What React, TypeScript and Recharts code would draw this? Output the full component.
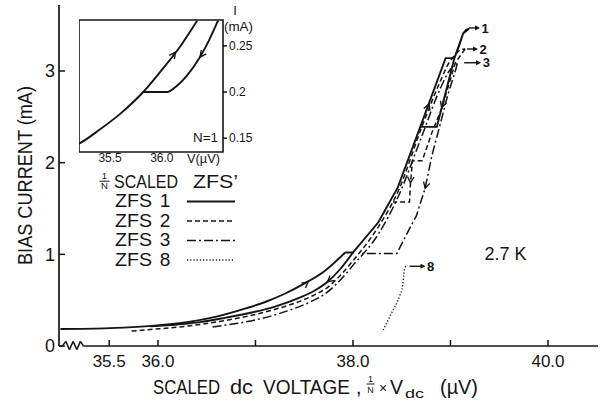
import React from 'react';
import {
  LineChart,
  Line,
  XAxis,
  YAxis,
  ReferenceLine,
  ReferenceDot,
  ReferenceArea,
  Legend,
} from 'recharts';

const FONT = '"Liberation Sans", Arial, Helvetica, sans-serif';
const INK = '#141414';

// ---------- main panel data (scaled voltage in µV, bias current in mA) ----------
// ZFS 1: up-sweep upper branch
const zfs1UpV = [35.0, 35.5, 36.0, 36.3, 36.6, 36.9, 37.1, 37.3, 37.5, 37.7, 37.92];
const zfs1UpI = [0.185, 0.195, 0.225, 0.26, 0.32, 0.41, 0.48, 0.57, 0.68, 0.81, 1.02];
// ZFS 1: jump at 1 mA, steep part, box near the top, return to 1 mA
const zfs1TopV = [37.92, 38.0, 38.26, 38.46, 38.69, 38.95, 39.04, 39.09, 39.13, 39.16, 39.19,
  39.13, 39.04, 38.86, 38.69, 38.46, 38.26, 38.0];
const zfs1TopI = [1.02, 1.02, 1.35, 1.73, 2.39, 3.14, 3.14, 3.28, 3.41, 3.45, 3.46,
  3.41, 3.14, 2.39, 2.39, 1.73, 1.35, 1.02];
// ZFS 1: down-sweep lower branch
const zfs1DownV = [35.92, 36.2, 36.43, 36.7, 36.94, 37.2, 37.46, 37.6, 37.74, 37.87, 38.0];
const zfs1DownI = [0.215, 0.235, 0.26, 0.31, 0.36, 0.43, 0.53, 0.6, 0.7, 0.84, 1.02];

// ZFS 2 (dashed)
const zfs2UpV = [35.73, 35.92, 36.2, 36.43, 36.7, 36.94, 37.2, 37.46, 37.6, 37.74, 37.87, 38.0, 38.26, 38.46, 38.71,
  38.88, 38.98, 39.05, 39.1, 39.15];
const zfs2UpI = [0.163, 0.18, 0.205, 0.235, 0.28, 0.33, 0.4, 0.49, 0.555, 0.64, 0.77, 0.93, 1.3, 1.68, 2.4,
  2.85, 3.08, 3.18, 3.23, 3.24];
const zfs2DownV = [39.15, 39.05, 38.91, 38.81, 38.71, 38.61, 38.59, 38.58, 38.41];
const zfs2DownI = [3.24, 3.09, 2.59, 2.33, 2.02, 2.02, 1.78, 1.57, 1.57];

// ZFS 3 (dash-dot)
const zfs3UpV = [36.56, 36.8, 37.0, 37.2, 37.4, 37.56, 37.74, 37.87, 38.0, 38.26, 38.46, 38.71, 38.9, 39.0, 39.07];
const zfs3UpI = [0.207, 0.245, 0.285, 0.34, 0.41, 0.48, 0.59, 0.72, 0.88, 1.22, 1.62, 2.3, 2.82, 3.02, 3.08];
const zfs3DownV = [39.07, 39.05, 38.97, 38.89, 38.81, 38.74, 38.65, 38.56, 38.45, 38.08];
const zfs3DownI = [3.08, 3.0, 2.73, 2.4, 2.08, 1.72, 1.42, 1.24, 1.01, 1.01];

// ZFS 8 (dotted)
const zfs8V = [38.31, 38.4, 38.48, 38.51, 38.52, 38.53, 38.56];
const zfs8I = [0.174, 0.37, 0.55, 0.66, 0.77, 0.85, 0.88];

// ---------- inset data (N = 1, unscaled) ----------
const insetUpV = [35.2, 35.21, 35.4, 35.6, 35.82, 35.98, 36.18, 36.34];
const insetUpI = [0.144, 0.1446, 0.1593, 0.1766, 0.2, 0.2213, 0.2499, 0.2772];
const insetDownV = [35.82, 36.05, 36.146, 36.242, 36.368, 36.455, 36.542];
const insetDownI = [0.2, 0.2, 0.2068, 0.2178, 0.238, 0.256, 0.2772];

// ---------- axes ----------
const xDomain: [number, number] = [34.985, 40.513];
const yDomain: [number, number] = [0, 3.72];
const xTicks = [35.5, 36, 37, 38, 39, 40];
const xLabelled = [35.5, 36, 38, 40];
const xTopTicks = [35.5, 37, 38, 39, 40];
const yTicks = [0, 1, 2, 3];
const yRightTicks = [1, 2, 3];

const insetXDomain: [number, number] = [35.2, 36.59];
const insetYDomain: [number, number] = [0.135, 0.278];
const insetXTicks = [35.5, 36.0];
const insetYTicks = [0.15, 0.2, 0.25];

// axis-break zigzag on the voltage axis
const breakV = [34.985, 35.02, 35.055, 35.092, 35.13, 35.168, 35.205, 35.235, 35.26];
const breakI = [0, 0, 0.05, -0.04, 0.05, -0.04, 0.05, 0, 0];

// end-of-branch tags and sweep-direction arrows
const endTags = [
  { v: 39.19, i: 3.47, text: '1', len: 7 },
  { v: 39.17, i: 3.24, text: '2', len: 7 },
  { v: 39.14, i: 3.09, text: '3', len: 13 },
  { v: 38.58, i: 0.87, text: '8', len: 12 },
];
const mainArrows = [
  { v: 37.54, i: 0.7, a: -39 },
  { v: 37.74, i: 0.7, a: 139 },
  { v: 38.78, i: 2.64, a: -69 },
  { v: 38.91, i: 2.6, a: 107 },
  { v: 38.74, i: 1.72, a: 105 },
  { v: 38.59, i: 1.78, a: 93 },
];
const insetArrows = [
  { v: 36.13, i: 0.243, a: -54 },
  { v: 36.37, i: 0.238, a: 126 },
];

const zip = (vs: number[], is: number[]) => vs.map((v, k) => ({ v, i: is[k] }));

type Part = { data: { v: number; i: number }[]; curve: 'monotone' | 'linear' };
const series: { key: string; name: string; n: string; dash?: string; w: number; parts: Part[] }[] = [
  {
    key: 'zfs1', name: 'ZFS', n: '1', dash: undefined, w: 1.9,
    parts: [
      { data: zip(zfs1UpV, zfs1UpI), curve: 'monotone' },
      { data: zip(zfs1TopV, zfs1TopI), curve: 'linear' },
      { data: zip(zfs1DownV, zfs1DownI), curve: 'monotone' },
    ],
  },
  {
    key: 'zfs2', name: 'ZFS', n: '2', dash: '5 3', w: 1.5,
    parts: [
      { data: zip(zfs2UpV, zfs2UpI), curve: 'monotone' },
      { data: zip(zfs2DownV, zfs2DownI), curve: 'linear' },
    ],
  },
  {
    key: 'zfs3', name: 'ZFS', n: '3', dash: '9 3 2 3', w: 1.5,
    parts: [
      { data: zip(zfs3UpV, zfs3UpI), curve: 'monotone' },
      { data: zip(zfs3DownV, zfs3DownI), curve: 'linear' },
    ],
  },
  {
    key: 'zfs8', name: 'ZFS', n: '8', dash: '1.2 2', w: 1.4,
    parts: [{ data: zip(zfs8V, zfs8I), curve: 'monotone' }],
  },
];

const Chevron = ({ cx, cy, a }: { cx: number; cy: number; a: number }) => (
  <path
    d="M -6 -3.2 L 0 0 L -6 3.2"
    transform={`translate(${cx},${cy}) rotate(${a})`}
    fill="none"
    stroke={INK}
    strokeWidth={1.4}
  />
);

const tagShape = (text: string, len: number) => (p: any) => {
  const { cx, cy } = p;
  return (
    <g>
      <line x1={cx} y1={cy} x2={cx + len} y2={cy} stroke={INK} strokeWidth={1.4} />
      <path d={`M ${cx + len + 4} ${cy} L ${cx + len - 1} ${cy - 2.6} L ${cx + len - 1} ${cy + 2.6} Z`} fill={INK} />
      <text x={cx + len + 5.5} y={cy} dy="0.36em" fontSize={13} fontWeight="bold" fill={INK} fontFamily={FONT}>
        {text}
      </text>
    </g>
  );
};

const tempShape = (p: any) => (
  <text x={p.cx} y={p.cy} dy="0.36em" fontSize={18} textLength={42} lengthAdjust="spacingAndGlyphs" fill={INK} fontFamily={FONT}>
    2.7 K
  </text>
);

const renderLegend = () => (
  <svg width={160} height={110} style={{ overflow: 'visible', display: 'block' }} fontFamily={FONT} fill={INK}>
    <text x={14.5} y={14} fontSize={9.5} textAnchor="middle">1</text>
    <line x1={9.5} x2={19.5} y1={16.2} y2={16.2} stroke={INK} strokeWidth={1} />
    <text x={14.5} y={24} fontSize={9.5} textAnchor="middle">N</text>
    <text x={24} y={23} fontSize={19} textLength={64} lengthAdjust="spacingAndGlyphs">SCALED</text>
    <text x={103} y={23} fontSize={19} textLength={45} lengthAdjust="spacingAndGlyphs">ZFS’</text>
    {series.map((s, k) => {
      const base = [42, 61.5, 81, 100.5][k];
      return (
        <g key={s.key}>
          <text x={25} y={base} fontSize={19} textLength={37} lengthAdjust="spacingAndGlyphs">{s.name}</text>
          <text x={75} y={base} fontSize={19} textAnchor="middle">{s.n}</text>
          <line
            x1={97}
            x2={145}
            y1={base - 5.5}
            y2={base - 5.5}
            stroke={INK}
            strokeWidth={s.w}
            strokeDasharray={s.dash}
          />
        </g>
      );
    })}
  </svg>
);

const renderXTitle = () => (
  <g fontFamily={FONT} fill={INK}>
    <text x={153} y={394} fontSize={19.5} textLength={67} lengthAdjust="spacingAndGlyphs">SCALED</text>
    <text x={230} y={394} fontSize={19.5} textLength={23} lengthAdjust="spacingAndGlyphs">dc</text>
    <text x={263} y={394} fontSize={19.5} textLength={87} lengthAdjust="spacingAndGlyphs">VOLTAGE</text>
    <text x={356} y={394} fontSize={19.5}>,</text>
    <text x={370.5} y={382} fontSize={9} textAnchor="middle">1</text>
    <line x1={366.5} x2={374.5} y1={384} y2={384} stroke={INK} strokeWidth={1} />
    <text x={370.5} y={393} fontSize={9} textAnchor="middle">N</text>
    <text x={383} y={393} fontSize={14} textAnchor="middle">×</text>
    <text x={390} y={394} fontSize={19.5} textLength={13} lengthAdjust="spacingAndGlyphs">V</text>
    <text x={405} y={398} fontSize={12} textLength={19} lengthAdjust="spacingAndGlyphs">dc</text>
    <text x={440} y={394} fontSize={19.5} textLength={38} lengthAdjust="spacingAndGlyphs">(µV)</text>
  </g>
);

const renderYTitle = () => (
  <text
    transform="translate(32,175.5) rotate(-90)"
    textAnchor="middle"
    fontSize={21}
    textLength={179}
    lengthAdjust="spacingAndGlyphs"
    fontFamily={FONT}
    fill={INK}
  >
    BIAS CURRENT (mA)
  </text>
);

const renderInsetText = () => (
  <g fontFamily={FONT} fill={INK} fontSize={13}>
    <text x={114} y={142} textLength={25} lengthAdjust="spacingAndGlyphs">N=1</text>
    <text x={108} y={163} textLength={33} lengthAdjust="spacingAndGlyphs">V(µV)</text>
    <text x={156} y={15} textAnchor="middle">I</text>
    <text x={145} y={31} textLength={29} lengthAdjust="spacingAndGlyphs">(mA)</text>
  </g>
);

const axisStroke = { stroke: INK, strokeWidth: 1.7 };
const tickStroke = { stroke: INK, strokeWidth: 1.5 };

function Inset() {
  return (
    <div style={{ position: 'absolute', left: 79, top: 0 }}>
      <LineChart width={180} height={170} margin={{ top: 20, right: 1, bottom: 2, left: 0 }} style={{ fontFamily: FONT }}>
        <XAxis
          type="number"
          dataKey="v"
          domain={insetXDomain}
          allowDataOverflow
          ticks={insetXTicks}
          tickFormatter={(v: number) => v.toFixed(1)}
          height={16}
          tickLine={false}
          axisLine={false}
          tickSize={0}
          tickMargin={1}
          tick={{ fill: INK, fontSize: 12, fontFamily: FONT }}
          label={{ content: renderInsetText }}
        />
        <YAxis
          orientation="right"
          type="number"
          domain={insetYDomain}
          allowDataOverflow
          ticks={insetYTicks}
          width={35}
          axisLine={false}
          tickSize={4}
          tickMargin={2}
          tickLine={tickStroke}
          tick={{ fill: INK, fontSize: 12, fontFamily: FONT }}
        />
        <ReferenceArea
          x1={insetXDomain[0]}
          x2={insetXDomain[1]}
          y1={insetYDomain[0]}
          y2={insetYDomain[1]}
          fill="none"
          fillOpacity={0}
          stroke={INK}
          strokeWidth={1.6}
          ifOverflow="visible"
        />
        <Line data={zip(insetUpV, insetUpI)} dataKey="i" type="monotone" stroke={INK} strokeWidth={1.9} dot={false} isAnimationActive={false} />
        <Line data={zip(insetDownV, insetDownI)} dataKey="i" type="monotone" stroke={INK} strokeWidth={1.9} dot={false} isAnimationActive={false} />
        {insetArrows.map((a, k) => (
          <ReferenceDot key={k} x={a.v} y={a.i} r={0} shape={(p: any) => <Chevron cx={p.cx} cy={p.cy} a={a.a} />} />
        ))}
      </LineChart>
    </div>
  );
}

export default function App() {
  const breakPts = zip(breakV, breakI);
  return (
    <div style={{ position: 'absolute', left: 0, top: 0, width: 605, height: 402, background: '#fff' }}>
      <LineChart width={605} height={402} margin={{ top: 5, right: 7, bottom: 26, left: 19 }} style={{ fontFamily: FONT }}>
        <XAxis
          xAxisId="b"
          type="number"
          dataKey="v"
          domain={xDomain}
          allowDataOverflow
          ticks={xTicks}
          tickFormatter={(v: number) => (xLabelled.includes(v) ? v.toFixed(1) : '')}
          height={30}
          axisLine={false}
          tickSize={-6}
          tickMargin={15}
          tickLine={tickStroke}
          stroke={INK}
          tick={{ fill: INK, fontSize: 17, fontFamily: FONT }}
          label={{ content: renderXTitle }}
        />
        <XAxis
          xAxisId="t"
          orientation="top"
          type="number"
          dataKey="v"
          domain={xDomain}
          allowDataOverflow
          ticks={xTopTicks}
          height={0}
          tick={false}
          tickSize={-6}
          axisLine={axisStroke}
          tickLine={tickStroke}
          stroke={INK}
        />
        <YAxis
          yAxisId="l"
          type="number"
          domain={yDomain}
          allowDataOverflow
          ticks={yTicks}
          width={40}
          tickSize={-6}
          tickMargin={10}
          axisLine={axisStroke}
          tickLine={tickStroke}
          stroke={INK}
          tick={{ fill: INK, fontSize: 18, fontFamily: FONT }}
          label={{ content: renderYTitle }}
        />
        <YAxis
          yAxisId="r"
          orientation="right"
          type="number"
          domain={yDomain}
          allowDataOverflow
          ticks={yRightTicks}
          width={0}
          tick={false}
          tickSize={-6}
          axisLine={axisStroke}
          tickLine={tickStroke}
          stroke={INK}
        />
        <Legend
          layout="horizontal"
          verticalAlign="middle"
          align="center"
          content={renderLegend}
          wrapperStyle={{ left: 90, top: 165, width: 160, height: 110 }}
        />
        {/* voltage axis with break */}
        <ReferenceLine
          xAxisId="b"
          yAxisId="l"
          segment={[{ x: breakV[breakV.length - 1], y: 0 }, { x: xDomain[1], y: 0 }]}
          stroke={INK}
          strokeWidth={1.7}
          ifOverflow="visible"
        />
        {breakPts.slice(0, -1).map((p, k) => (
          <ReferenceLine
            key={`br${k}`}
            xAxisId="b"
            yAxisId="l"
            segment={[{ x: p.v, y: p.i }, { x: breakPts[k + 1].v, y: breakPts[k + 1].i }]}
            stroke={INK}
            strokeWidth={1.5}
            ifOverflow="visible"
          />
        ))}
        {series.flatMap((s) =>
          s.parts.map((part, j) => (
            <Line
              key={`${s.key}-${j}`}
              xAxisId="b"
              yAxisId="l"
              data={part.data}
              dataKey="i"
              name={`${s.name} ${s.n}`}
              type={part.curve}
              stroke={INK}
              strokeWidth={s.w}
              strokeDasharray={s.dash}
              dot={false}
              isAnimationActive={false}
            />
          ))
        )}
        {mainArrows.map((a, k) => (
          <ReferenceDot
            key={`ar${k}`}
            xAxisId="b"
            yAxisId="l"
            x={a.v}
            y={a.i}
            r={0}
            shape={(p: any) => <Chevron cx={p.cx} cy={p.cy} a={a.a} />}
          />
        ))}
        {endTags.map((t, k) => (
          <ReferenceDot key={`tg${k}`} xAxisId="b" yAxisId="l" x={t.v} y={t.i} r={0} shape={tagShape(t.text, t.len)} />
        ))}
        <ReferenceDot xAxisId="b" yAxisId="l" x={39.35} y={1.01} r={0} shape={tempShape} />
      </LineChart>
      <Inset />
    </div>
  );
}
